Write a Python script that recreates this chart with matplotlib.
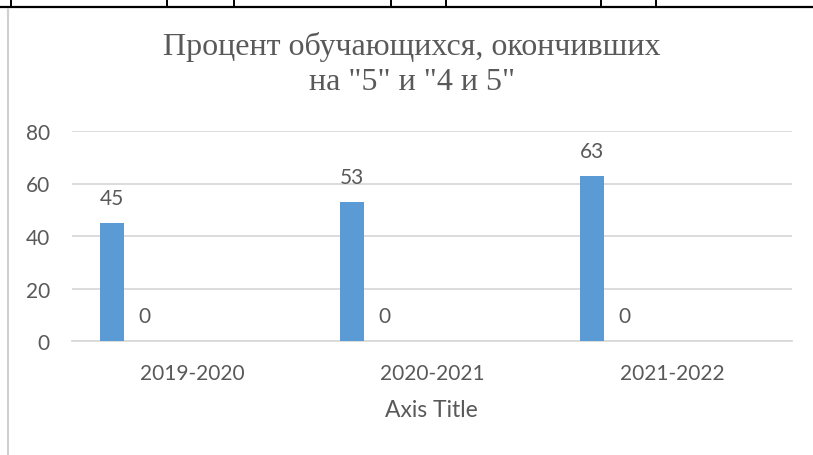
import matplotlib
matplotlib.use("Agg")
import matplotlib.pyplot as plt
from matplotlib.lines import Line2D
import numpy as np

categories = ["2019-2020", "2020-2021", "2021-2022"]
series1 = [45, 53, 63]
series2 = [0, 0, 0]
yticks = [0, 20, 40, 60, 80]
title = 'Процент обучающихся, окончивших\nна "5" и "4 и 5"'
xlabel = "Axis Title"

TEXT = "#595959"
GRID = "#D9D9D9"
BAR = "#5B9BD5"
SANS = ["Lato", "DejaVu Sans"]
SERIF = ["Liberation Serif", "DejaVu Serif"]

W, H = 813, 456
fig = plt.figure(figsize=(W / 100, H / 100), dpi=100)
fig.patch.set_facecolor("white")
ax = fig.add_axes([72 / W, 1 - 342 / H, (792 - 72) / W, (342 - 132) / H])

x = np.arange(len(categories))
off1, off2, bw = -80 / 240, -48 / 240, 24 / 240
ax.bar(x + off1, series1, width=bw, color=BAR, zorder=3)
ax.bar(x + off2, series2, width=bw, color="#ED7D31", zorder=3)
for xi, v in zip(x + off1, series1):
    ax.annotate(str(v), (xi, v), xytext=(0, 10.5), textcoords="offset points",
                ha="center", va="bottom", fontsize=15, color=TEXT, family=SANS)
for xi, v in zip(x + off2, series2):
    ax.annotate(str(v), (xi, v), xytext=(0, 10.5), textcoords="offset points",
                ha="center", va="bottom", fontsize=15, color=TEXT, family=SANS)

ax.set_xlim(-0.5, len(categories) - 0.5)
ax.set_ylim(0, 80)
ax.set_yticks(yticks)
ax.set_xticks(x)
ax.set_xticklabels(categories)
ax.grid(axis="y", color=GRID, linewidth=1.3, zorder=0)
ax.set_axisbelow(True)
for s in ["top", "right", "left"]:
    ax.spines[s].set_visible(False)
ax.spines["bottom"].set_color(GRID)
ax.spines["bottom"].set_linewidth(1.3)
ax.tick_params(axis="y", length=0, pad=16, labelsize=15, labelcolor=TEXT)
ax.tick_params(axis="x", length=0, pad=16, labelsize=15, labelcolor=TEXT)
for lab in ax.get_xticklabels() + ax.get_yticklabels():
    lab.set_family(SANS)

fig.text(431 / W, 1 - 411 / H, xlabel, ha="center", va="center",
         fontsize=16.5, color=TEXT, family=SANS)
fig.text(412 / W, 1 - 64.5 / H, title, ha="center", va="center",
         fontsize=23, color=TEXT, family=SERIF, linespacing=1.25)

# surrounding table borders
fig.add_artist(Line2D([0, 1], [1 - 8 / H, 1 - 8 / H], color="black", linewidth=1.6,
                      transform=fig.transFigure))
for px in [11, 167, 234, 391, 446, 601, 656]:
    fig.add_artist(Line2D([px / W, px / W], [1, 1 - 8 / H], color="black", linewidth=1.4,
                          transform=fig.transFigure))
fig.add_artist(Line2D([8 / W, 8 / W], [1 - 10 / H, 0], color="#D0D0D0", linewidth=1.5,
                      transform=fig.transFigure))

fig.savefig("out.png", dpi=100, facecolor="white")
